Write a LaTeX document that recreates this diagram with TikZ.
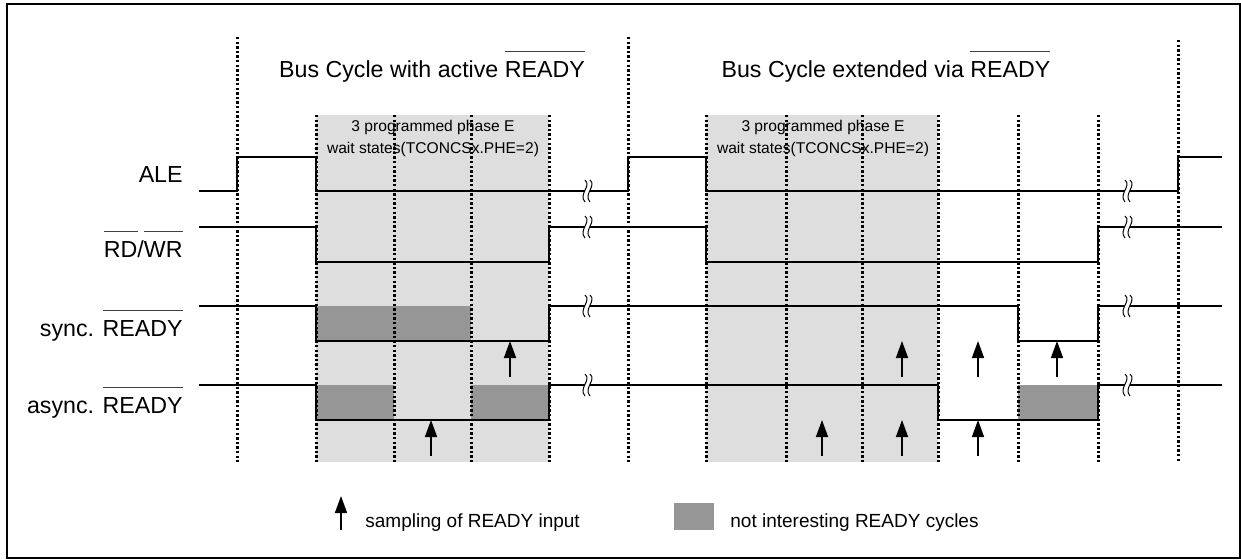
\documentclass[tikz,border=0pt]{standalone}
\usepackage{fontspec}
\setmainfont{Liberation Sans}
\usetikzlibrary{arrows.meta}
\newcommand{\lowact}[1]{\setbox0\hbox{#1}\rlap{\raisebox{\dimexpr\ht0+4.3pt\relax}{\color{black!75}\rule{\wd0}{0.5pt}}}\box0}

\begin{document}
\begin{tikzpicture}[x=0.5pt, y=-0.5pt, >=Latex,
sig/.style={line width=1pt, line join=miter},
phaseln/.style={line width=1.5pt, dash pattern=on 1.2pt off 1.1pt},
waitbg/.style={fill=black!13},
nonint/.style={fill=black!41},
smp/.style={-{Triangle[length=8.5pt,width=6pt]}, line width=0.8pt},
titletxt/.style={font=\fontsize{11.6}{14}\selectfont, anchor=base, inner sep=0pt},
siglbl/.style={font=\fontsize{11.6}{14}\selectfont, anchor=base east, inner sep=0pt},
waittxt/.style={font=\fontsize{7.8}{9}\selectfont, anchor=base, inner sep=0pt},
legtxt/.style={font=\fontsize{9.5}{11}\selectfont, anchor=base west, inner sep=0pt},
brk/.pic={
\fill[white] (-3,-11) .. controls (4,-5) and (-10,3) .. (-3,11) -- (2,11) .. controls (-5,3) and (9,-5) .. (2,-11) -- cycle;
\draw[line width=0.5pt] (-3,-11) .. controls (4,-5) and (-10,3) .. (-3,11);
\draw[line width=0.5pt] (2,-11) .. controls (9,-5) and (-5,3) .. (2,11);
}]
\useasboundingbox (0,0) rectangle (1241,559);
\draw[line width=1pt] (6.7,4) rectangle (1239.5,557.5);

% wait state areas and not interesting cycles
\fill[waitbg] (316,115) rectangle (549,462);
\fill[waitbg] (706,115) rectangle (938,462);
\fill[nonint] (316,306) rectangle (471,341);
\fill[nonint] (316,385) rectangle (394,420);
\fill[nonint] (471,385) rectangle (549,420);
\fill[nonint] (1018,385) rectangle (1098,420);

% phase borders
\draw[phaseln] (237,37) -- (237,462);
\draw[phaseln] (316,115) -- (316,462);
\draw[phaseln] (394,115) -- (394,462);
\draw[phaseln] (471,115) -- (471,462);
\draw[phaseln] (549,115) -- (549,462);
\draw[phaseln] (628,37) -- (628,462);
\draw[phaseln] (706,115) -- (706,462);
\draw[phaseln] (786,115) -- (786,462);
\draw[phaseln] (862,115) -- (862,462);
\draw[phaseln] (938,115) -- (938,462);
\draw[phaseln] (1018,115) -- (1018,462);
\draw[phaseln] (1098,115) -- (1098,462);
\draw[phaseln] (1178,40) -- (1178,462);

% signals
\draw[sig] (199,191) -- (237,191) -- (237,157) -- (316,157) -- (316,191) -- (628,191) -- (628,157) -- (706,157) -- (706,191) -- (1178,191) -- (1178,157) -- (1222,157);
\draw[sig] (199,227) -- (316,227) -- (316,262) -- (549,262) -- (549,227) -- (706,227) -- (706,262) -- (1098,262) -- (1098,227) -- (1222,227);
\draw[sig] (199,306) -- (316,306) -- (316,341) -- (549,341) -- (549,306) -- (1018,306) -- (1018,341) -- (1098,341) -- (1098,306) -- (1222,306);
\draw[sig] (199,385) -- (316,385) -- (316,420) -- (549,420) -- (549,385) -- (938,385) -- (938,420) -- (1098,420) -- (1098,385) -- (1222,385);
\pic at (588,191) {brk};
\pic at (588,227) {brk};
\pic at (588,306) {brk};
\pic at (588,385) {brk};
\pic at (1128,191) {brk};
\pic at (1128,227) {brk};
\pic at (1128,306) {brk};
\pic at (1128,385) {brk};

% sampling points
\draw[smp] (510,377) -- (510,341);
\draw[smp] (902,377) -- (902,341);
\draw[smp] (978,377) -- (978,341);
\draw[smp] (1057,377) -- (1057,341);
\draw[smp] (431,456) -- (431,420);
\draw[smp] (822,456) -- (822,420);
\draw[smp] (902,456) -- (902,420);
\draw[smp] (978,456) -- (978,420);

\node[titletxt] (ttlact) at (432,77) {Bus Cycle with active \lowact{READY}};
\node[titletxt] (ttlext) at (886,77) {Bus Cycle extended via \lowact{READY}};
\node[waittxt] (waitA1) at (433,131) {3 programmed phase E};
\node[waittxt] (waitA2) at (433,153) {wait states(TCONCSx.PHE=2)};
\node[waittxt] (waitB1) at (823,131) {3 programmed phase E};
\node[waittxt] (waitB2) at (823,153) {wait states(TCONCSx.PHE=2)};

\node[siglbl] (lale) at (183,182) {ALE};
\node[siglbl] (lrdwr) at (183,257) {\lowact{RD}/\lowact{WR}};
\node[siglbl] (lsync) at (183,336) {sync. \lowact{READY}};
\node[siglbl] (lasync) at (183,413) {async. \lowact{READY}};

% legend
\draw[smp] (341,530) -- (341,496);
\node[legtxt] (legsmp) at (365,527) {sampling of READY input};
\fill[nonint] (674,503) rectangle (714,530);
\node[legtxt] (legnon) at (730,527) {not interesting READY cycles};
\end{tikzpicture}
\end{document}
